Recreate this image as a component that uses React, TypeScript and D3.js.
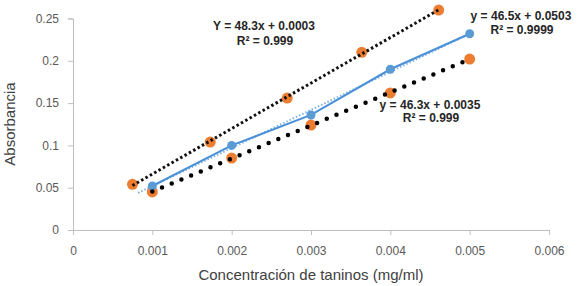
import { useEffect, useRef } from "react"
import * as d3 from "d3"

// lines
const topX = [0.00075, 0.00173, 0.0027, 0.00364, 0.00461]
const topY = [0.054, 0.104, 0.156, 0.21, 0.26]
const lowX = [0.001, 0.002, 0.003, 0.004, 0.005]
const lowY = [0.045, 0.085, 0.124, 0.162, 0.202]
const blueX = [0.001, 0.002, 0.003, 0.004, 0.005]
const blueY = [0.052, 0.1, 0.136, 0.19, 0.232]

const xTicks = [0, 0.001, 0.002, 0.003, 0.004, 0.005, 0.006]
const yTicks = [0, 0.05, 0.1, 0.15, 0.2, 0.25]

const topLabel = ["Y = 48.3x + 0.0003", "R² = 0.999"]
const blueLabel = ["y = 46.5x + 0.0503", "R² = 0.9999"]
const lowLabel = ["y = 46.3x + 0.0035", "R² = 0.999"]

const fit = (xs: number[], ys: number[]) => {
  const mx = d3.mean(xs)!
  const my = d3.mean(ys)!
  const sxy = d3.sum(xs, (x, i) => (x - mx) * (ys[i] - my))
  const sxx = d3.sum(xs, (x) => (x - mx) ** 2)
  const b = sxy / sxx
  return (x: number) => my + b * (x - mx)
}

const App = () => {
  const ref = useRef<SVGSVGElement>(null)
  const width = 581
  const height = 286

  useEffect(() => {
    const svg = d3.select(ref.current)
    svg.selectAll("*").remove()
    const font = "'Liberation Sans', Arial, sans-serif"

    const x = d3.scaleLinear().domain([0, 0.006]).range([73, 549])
    const y = d3.scaleLinear().domain([0, 0.25]).range([230, 18.5])

    // axes
    const xAxis = svg.append("g").attr("transform", `translate(0,${y(0)})`)
      .call(d3.axisBottom(x).tickValues(xTicks).tickSize(5).tickFormat((d) => (d === 0 ? "0" : d3.format(".3f")(d as number))))
    const yAxis = svg.append("g").attr("transform", `translate(${x(0)},0)`)
      .call(d3.axisLeft(y).tickValues(yTicks).tickSize(5).tickFormat((d) => (d === 0 ? "0" : String(d))))
    for (const a of [xAxis, yAxis]) {
      a.selectAll("path,line").attr("stroke", "#bfbfbf")
      a.selectAll("text").attr("fill", "#595959").style("font-family", font).style("font-size", "12px")
    }
    xAxis.selectAll("text").attr("dy", "1.05em").attr("y", 12)
    yAxis.selectAll("text").attr("x", -14)

    svg.append("text").attr("x", 311).attr("y", 280).attr("text-anchor", "middle")
      .style("font-family", font).style("font-size", "15px").attr("fill", "#404040")
      .text("Concentración de taninos (mg/ml)")
    svg.append("text").attr("transform", "translate(15,124) rotate(-90)").attr("text-anchor", "middle")
      .style("font-family", font).style("font-size", "15px").attr("fill", "#404040")
      .text("Absorbancia")

    const line = d3.line<[number, number]>().x((d) => x(d[0])).y((d) => y(d[1]))

    // trendlines
    const trend = (xs: number[], ys: number[], x0: number, x1: number) => {
      const f = fit(xs, ys)
      return line([[x0, f(x0)], [x1, f(x1)]])
    }
    svg.append("path").attr("d", trend(blueX, blueY, 0.00082, 0.005))
      .attr("stroke", "#7fb2e5").attr("stroke-width", 2).attr("stroke-dasharray", "1.5,2").attr("fill", "none")

    // blue series
    svg.append("path").datum(blueX.map((v, i) => [v, blueY[i]] as [number, number]))
      .attr("d", line).attr("stroke", "#4a90d9").attr("stroke-width", 2).attr("fill", "none")

    // orange markers
    const orange = [...topX.map((v, i) => [v, topY[i]]), ...lowX.map((v, i) => [v, lowY[i]])]
    svg.append("g").selectAll("circle").data(orange).enter().append("circle")
      .attr("cx", (d) => x(d[0])).attr("cy", (d) => y(d[1])).attr("r", 5.5).attr("fill", "#ed7d31")

    svg.append("g").selectAll("circle").data(blueX.map((v, i) => [v, blueY[i]])).enter().append("circle")
      .attr("cx", (d) => x(d[0])).attr("cy", (d) => y(d[1])).attr("r", 4.5).attr("fill", "#5b9bd5")

    svg.append("path").attr("d", trend(topX, topY, topX[0], topX[topX.length - 1]))
      .attr("stroke", "#111").attr("stroke-width", 3).attr("stroke-dasharray", "2.5,2.5").attr("fill", "none")
    svg.append("path").attr("d", trend(lowX, lowY, lowX[0], lowX[lowX.length - 1]))
      .attr("stroke", "#000").attr("stroke-width", 4.5).attr("stroke-linecap", "round")
      .attr("stroke-dasharray", "0,10.5").attr("fill", "none")

    // equations
    const label = (lines: string[], cx: number[], cy: number[]) => {
      lines.forEach((t, i) => {
        svg.append("text").attr("x", cx[i]).attr("y", cy[i]).attr("text-anchor", "middle")
          .attr("dominant-baseline", "middle").style("font-family", font).style("font-size", "12px")
          .style("font-weight", "bold").attr("fill", "#262626").text(t)
      })
    }
    label(topLabel, [264, 265], [27, 42])
    label(blueLabel, [521, 522], [17, 31])
    label(lowLabel, [430, 431], [106, 119])
  }, [])

  return (
    <svg ref={ref} width={width} height={height}
      style={{ position: "absolute", left: 0, top: 0, background: "#fff" }} />
  )
}

export default App
